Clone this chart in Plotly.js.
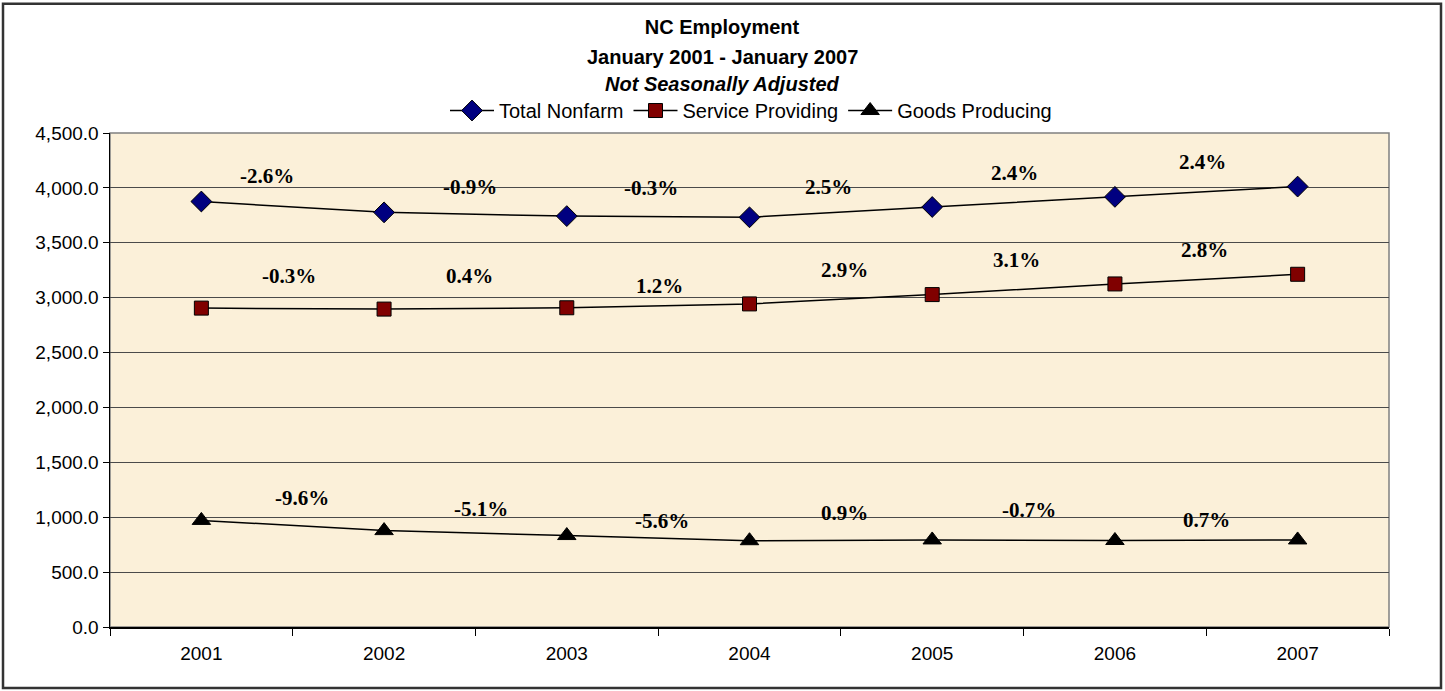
<!DOCTYPE html>
<html>
<head>
<meta charset="utf-8">
<script src="https://cdn.plot.ly/plotly-3.0.1.min.js"></script>
<style>html,body{margin:0;padding:0;background:#fff;}#chart{width:1445px;height:691px;}</style>
</head>
<body>
<div id="chart"></div>
<script>
// ---- data ----
var years = ['2001', '2002', '2003', '2004', '2005', '2006', '2007'];
var totalNonfarm = [3876, 3777, 3743, 3732, 3826, 3918, 4012];
var serviceProviding = [2905, 2896, 2908, 2943, 3028, 3125, 3213];
var goodsProducing = [971, 878, 833, 786, 793, 788, 793];

var totalLabels = ['-2.6%', '-0.9%', '-0.3%', '2.5%', '2.4%', '2.4%'];
var serviceLabels = ['-0.3%', '0.4%', '1.2%', '2.9%', '3.1%', '2.8%'];
var goodsLabels = ['-9.6%', '-5.1%', '-5.6%', '0.9%', '-0.7%', '0.7%'];

// label placement (category index, value units)
var totalLabelPos = [[0.36, 4109], [1.47, 4009], [2.46, 4000], [3.43, 4009], [4.45, 4132], [5.48, 4240]];
var serviceLabelPos = [[0.48, 3200], [1.47, 3200], [2.51, 3109], [3.52, 3255], [4.46, 3342], [5.49, 3434]];
var goodsLabelPos = [[0.55, 1173], [1.53, 1073], [2.52, 964], [3.52, 1036], [4.53, 1070], [5.5, 979]];

var SANS = 'Liberation Sans, Arial, sans-serif';
var SERIF = 'Liberation Serif, Times New Roman, serif';

var traces = [
  {x: years, y: totalNonfarm, name: 'Total Nonfarm', type: 'scatter', mode: 'lines+markers',
   line: {color: '#000000', width: 1.5},
   marker: {symbol: 'diamond', size: 16, color: '#000080', line: {color: '#000000', width: 1}}},
  {x: years, y: serviceProviding, name: 'Service Providing', type: 'scatter', mode: 'lines+markers',
   line: {color: '#000000', width: 1.5},
   marker: {symbol: 'square', size: 14, color: '#800000', line: {color: '#000000', width: 1}}},
  {x: years, y: goodsProducing, name: 'Goods Producing', type: 'scatter', mode: 'lines+markers',
   line: {color: '#000000', width: 1.5},
   marker: {symbol: 'triangle-up', size: 16, color: '#000000', line: {color: '#000000', width: 1}}}
];

var annotations = [];
function addLabels(labels, pos) {
  for (var i = 0; i < labels.length; i++) {
    annotations.push({x: pos[i][0], y: pos[i][1], xref: 'x', yref: 'y', text: '<b>' + labels[i] + '</b>',
      showarrow: false, font: {family: SERIF, size: 21, color: '#000'}, xanchor: 'center', yanchor: 'middle'});
  }
}
addLabels(totalLabels, totalLabelPos);
addLabels(serviceLabels, serviceLabelPos);
addLabels(goodsLabels, goodsLabelPos);

var plotTop = 132.5, plotBot = 627, plotH = plotBot - plotTop;
function py(pix) { return (plotBot - pix) / plotH; }
var plotL = 110, plotR = 1389, plotW = plotR - plotL;
function px(pix) { return (pix - plotL) / plotW; }

annotations.push({xref: 'paper', yref: 'paper', x: px(722), y: py(56), text: '<b>January 2001 - January 2007</b>',
  showarrow: false, font: {family: SANS, size: 20, color: '#000'}, xanchor: 'center', yanchor: 'middle'});
annotations.push({xref: 'paper', yref: 'paper', x: px(722), y: py(83), text: '<b><i>Not Seasonally Adjusted</i></b>',
  showarrow: false, font: {family: SANS, size: 20, color: '#000'}, xanchor: 'center', yanchor: 'middle'});

var layout = {
  width: 1445, height: 691,
  paper_bgcolor: '#ffffff',
  plot_bgcolor: '#FBF0D9',
  margin: {l: plotL, r: 1445 - plotR, t: plotTop, b: 691 - plotBot, pad: 0},
  title: {text: '<b>NC Employment</b>', x: 722 / 1445, xanchor: 'center', y: 1 - 27 / 691, yanchor: 'middle',
    font: {family: SANS, size: 20, color: '#000'}},
  showlegend: true,
  legend: {orientation: 'h', x: px(751), xanchor: 'center', y: py(110), yanchor: 'middle',
    font: {family: SANS, size: 20, color: '#000'}, bgcolor: 'rgba(0,0,0,0)', itemwidth: 44, tracegroupgap: 0},
  xaxis: {type: 'category', range: [-0.5, 6.5], tickson: 'boundaries', ticks: 'outside', ticklen: 7,
    tickcolor: '#000', showline: true, linecolor: '#000', linewidth: 1.5, showgrid: false, zeroline: false,
    ticklabelstandoff: 9,
    tickfont: {family: SANS, size: 19, color: '#000'}, fixedrange: true},
  yaxis: {range: [0, 4500], dtick: 500, tickformat: ',.1f', ticks: 'outside', ticklen: 6, tickcolor: '#000',
    showline: true, linecolor: '#000', linewidth: 1.5, showgrid: true, gridcolor: '#4a4a4a', gridwidth: 1,
    zeroline: false, tickfont: {family: SANS, size: 19, color: '#000'}, fixedrange: true},
  annotations: annotations,
  shapes: [
    {type: 'rect', xref: 'paper', yref: 'paper', x0: 0, x1: 1, y0: 0, y1: 1, line: {color: '#808080', width: 1.5}, layer: 'below'},
    {type: 'rect', xref: 'paper', yref: 'paper', x0: px(3), x1: px(1441), y0: py(688), y1: py(3), line: {color: '#333333', width: 2.5}, layer: 'below'}
  ]
};

Plotly.newPlot('chart', traces, layout, {displayModeBar: false, staticPlot: true});
</script>
</body>
</html>
